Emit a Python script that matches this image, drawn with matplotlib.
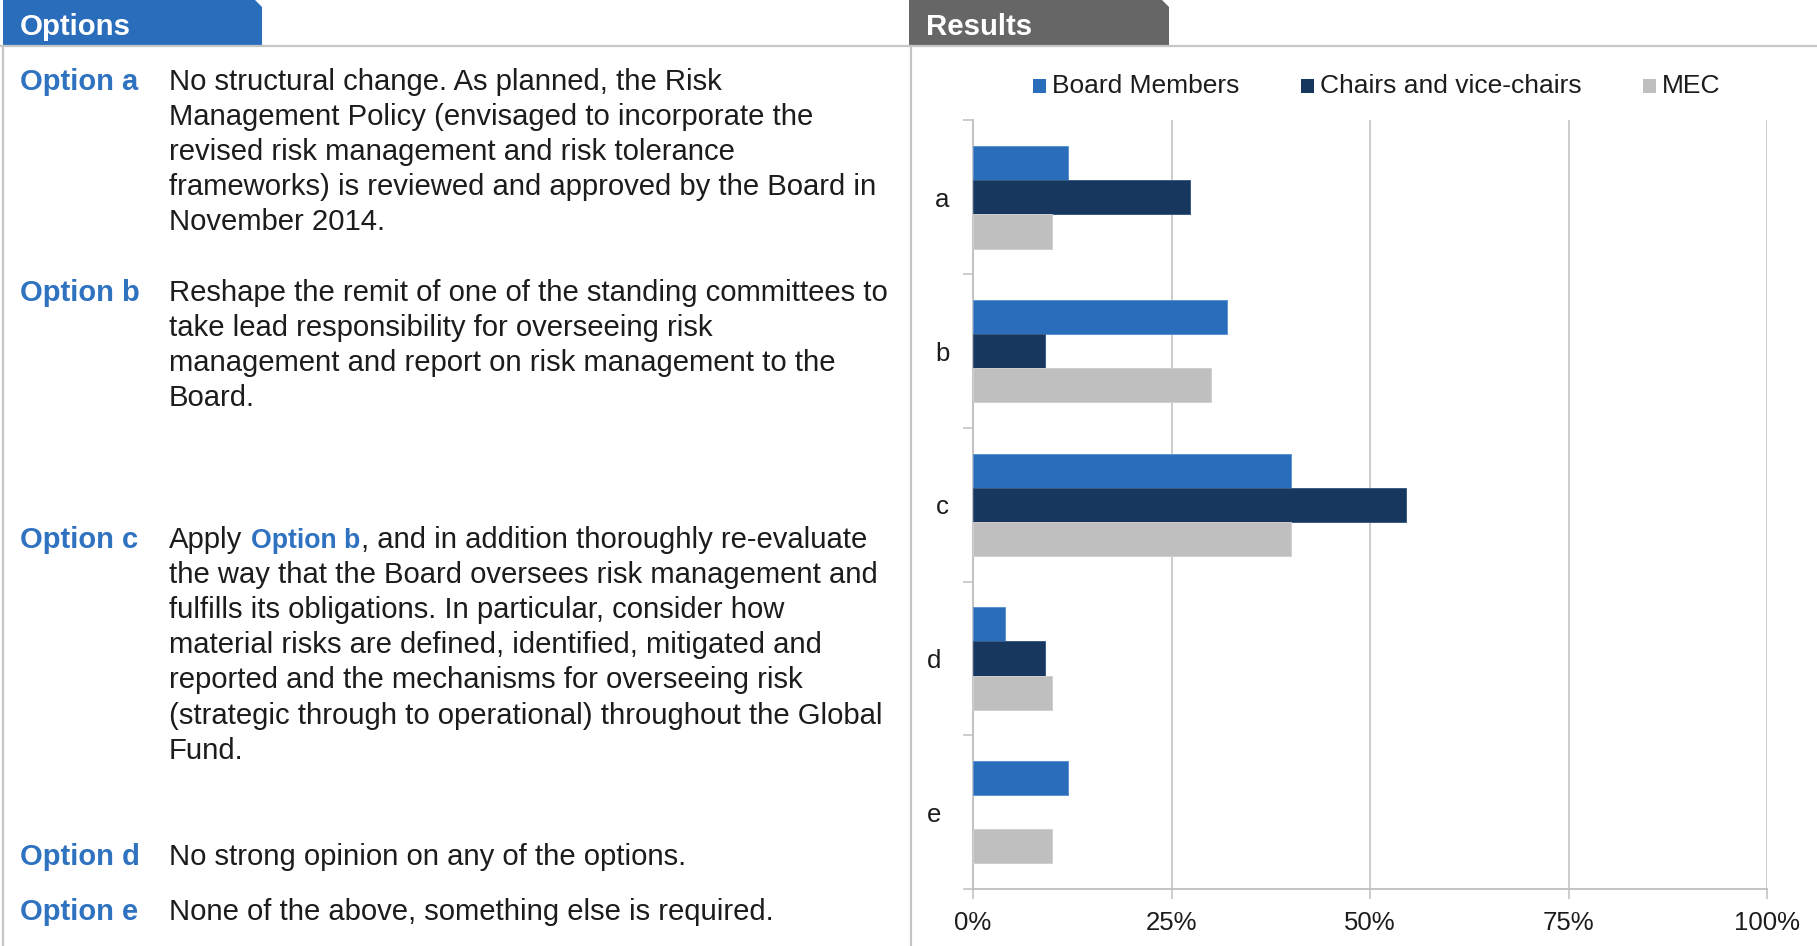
import matplotlib
matplotlib.use("Agg")
import matplotlib.pyplot as plt
from matplotlib.patches import Polygon, Rectangle
from matplotlib.lines import Line2D
import matplotlib.transforms as mtransforms
import numpy as np

plt.rcParams['font.family'] = ['Liberation Sans', 'DejaVu Sans']

# ---------------- data ----------------
categories = ["a", "b", "c", "d", "e"]
series_names = ["Board Members", "Chairs and vice-chairs", "MEC"]
board_members = [0.12, 0.32, 0.40, 0.04, 0.12]
chairs = [0.273, 0.091, 0.545, 0.091, 0.00]
mec = [0.10, 0.30, 0.40, 0.10, 0.10]
x_ticks = [0, 0.25, 0.5, 0.75, 1.0]
x_tick_labels = ["0%", "25%", "50%", "75%", "100%"]

option_labels = ["Option a", "Option b", "Option c", "Option d", "Option e"]
option_lines = [
    ["No structural change. As planned, the Risk",
     "Management Policy (envisaged to incorporate the",
     "revised risk management and risk tolerance",
     "frameworks) is reviewed and approved by the Board in",
     "November 2014."],
    ["Reshape the remit of one of the standing committees to",
     "take lead responsibility for overseeing risk",
     "management and report on risk management to the",
     "Board."],
    ["@@INLINE@@",
     "the way that the Board oversees risk management and",
     "fulfills its obligations. In particular, consider how",
     "material risks are defined, identified, mitigated and",
     "reported and the mechanisms for overseeing risk",
     "(strategic through to operational) throughout the Global",
     "Fund."],
    ["No strong opinion on any of the options."],
    ["None of the above, something else is required."],
]
inline_parts = ["Apply", "Option b", ", and in addition thoroughly re-evaluate"]

# ---------------- styling ----------------
W, H = 1817, 946
BLUE = "#2A6EBB"
TEXT_BLUE = "#2E72C0"
NAVY = "#17375E"
GREY = "#BFBFBF"
TAB_GREY = "#666666"
LINE = "#C6C6C6"
TXT = "#1C1C1C"

fig = plt.figure(figsize=(W / 100, H / 100), dpi=100)
fig.patch.set_facecolor("white")


def fx(x):
    return x / W


def fy(y):
    return 1 - y / H


# frame lines
fig.add_artist(Line2D([fx(0), fx(W)], [fy(46.5), fy(46.5)], color=LINE, lw=1.6))
fig.add_artist(Line2D([fx(3), fx(3)], [fy(46), fy(H)], color=LINE, lw=1.6))
fig.add_artist(Line2D([fx(911), fx(911)], [fy(46), fy(H)], color=LINE, lw=1.6))

# tabs
for (x0, x1, col, label) in [(3, 262, BLUE, "Options"), (909, 1169, TAB_GREY, "Results")]:
    pts = [(fx(x0), fy(0)), (fx(x1 - 7), fy(0)), (fx(x1), fy(7)), (fx(x1), fy(45)), (fx(x0), fy(45))]
    fig.add_artist(Polygon(pts, closed=True, facecolor=col, edgecolor="none",
                           transform=fig.transFigure))
    fig.text(fx(x0 + 17), fy(35), label, color="white", fontsize=21.2,
             fontweight="bold", va="baseline", ha="left")

# options text
first_baselines = [90, 301, 548, 865, 919.5]
line_gap = 35.1
BODY = 21.1
renderer = fig.canvas.get_renderer()
for lab, lines, yb in zip(option_labels, option_lines, first_baselines):
    fig.text(fx(20), fy(yb), lab, color=TEXT_BLUE, fontsize=21, fontweight="bold",
             va="baseline", ha="left")
    for i, ln in enumerate(lines):
        y = yb + i * line_gap
        if ln == "@@INLINE@@":
            t1 = fig.text(fx(169), fy(y), inline_parts[0], color=TXT, fontsize=BODY,
                          va="baseline", ha="left")
            bb1 = t1.get_window_extent(renderer)
            t2 = fig.text(fx(bb1.x1 + 9), fy(y), inline_parts[1], color=TEXT_BLUE,
                          fontsize=19.2, fontweight="bold", va="baseline", ha="left")
            bb2 = t2.get_window_extent(renderer)
            fig.text(fx(bb2.x1 + 0.5), fy(y), inline_parts[2], color=TXT, fontsize=BODY,
                     va="baseline", ha="left")
        else:
            fig.text(fx(169), fy(y), ln, color=TXT, fontsize=BODY, va="baseline", ha="left")

# ---------------- chart ----------------
ax_l, ax_r, ax_t, ax_b = 973, 1767, 120.5, 889
ax = fig.add_axes([fx(ax_l), fy(ax_b), (ax_r - ax_l) / W, (ax_b - ax_t) / H])

ypos = np.arange(len(categories))
h = 1 / 4.5


def widths(vals):
    return [0.7 if v > 0 else 0 for v in vals]


ax.barh(ypos - h, board_members, height=h, color=BLUE, edgecolor="#5E93D3",
        linewidth=widths(board_members), zorder=3)
ax.barh(ypos, chairs, height=h, color=NAVY, edgecolor="#3A5C86",
        linewidth=widths(chairs), zorder=3)
ax.barh(ypos + h, mec, height=h, color=GREY, edgecolor="#D0D0D0",
        linewidth=widths(mec), zorder=3)

ax.set_xlim(0, 1)
ax.set_ylim(len(categories) - 0.5, -0.5)

ax.set_xticks(x_ticks)
ax.set_xticklabels(x_tick_labels)
ax.xaxis.grid(True, color=GREY, lw=1.1, zorder=0)
ax.set_axisbelow(True)

ax.set_yticks(np.arange(-0.5, len(categories), 1.0))
ax.set_yticklabels([])
ax.set_yticks(ypos, minor=True)
ax.set_yticklabels(categories, minor=True)
ax.tick_params(axis="y", which="major", length=7, width=1.1, color=GREY)
ax.tick_params(axis="y", which="minor", length=0, pad=22, labelsize=18.5, labelcolor=TXT)
for i, t in enumerate(ax.get_yticklabels(minor=True)):
    t.set_ha("center")
    if i >= 3:
        t.set_transform(t.get_transform() +
                        mtransforms.ScaledTranslation(-8 / 100, 0, fig.dpi_scale_trans))
ax.tick_params(axis="x", which="major", length=7, width=1.1, color=GREY, pad=9,
               labelsize=18.5, labelcolor=TXT)

for s in ["top", "right"]:
    ax.spines[s].set_visible(False)
for s in ["left", "bottom"]:
    ax.spines[s].set_color(GREY)
    ax.spines[s].set_linewidth(1.3)

# legend (manual, at top of results panel)
colors = [BLUE, NAVY, GREY]
sq_x = [1033, 1301, 1643]
for name, col, x in zip(series_names, colors, sq_x):
    fig.add_artist(Rectangle((fx(x), fy(93)), 13 / W, 14 / H, facecolor=col,
                             edgecolor="none", transform=fig.transFigure))
    fig.text(fx(x + 19), fy(86), name, color=TXT, fontsize=19, va="center", ha="left")

fig.savefig("out.png", dpi=100, facecolor="white")
